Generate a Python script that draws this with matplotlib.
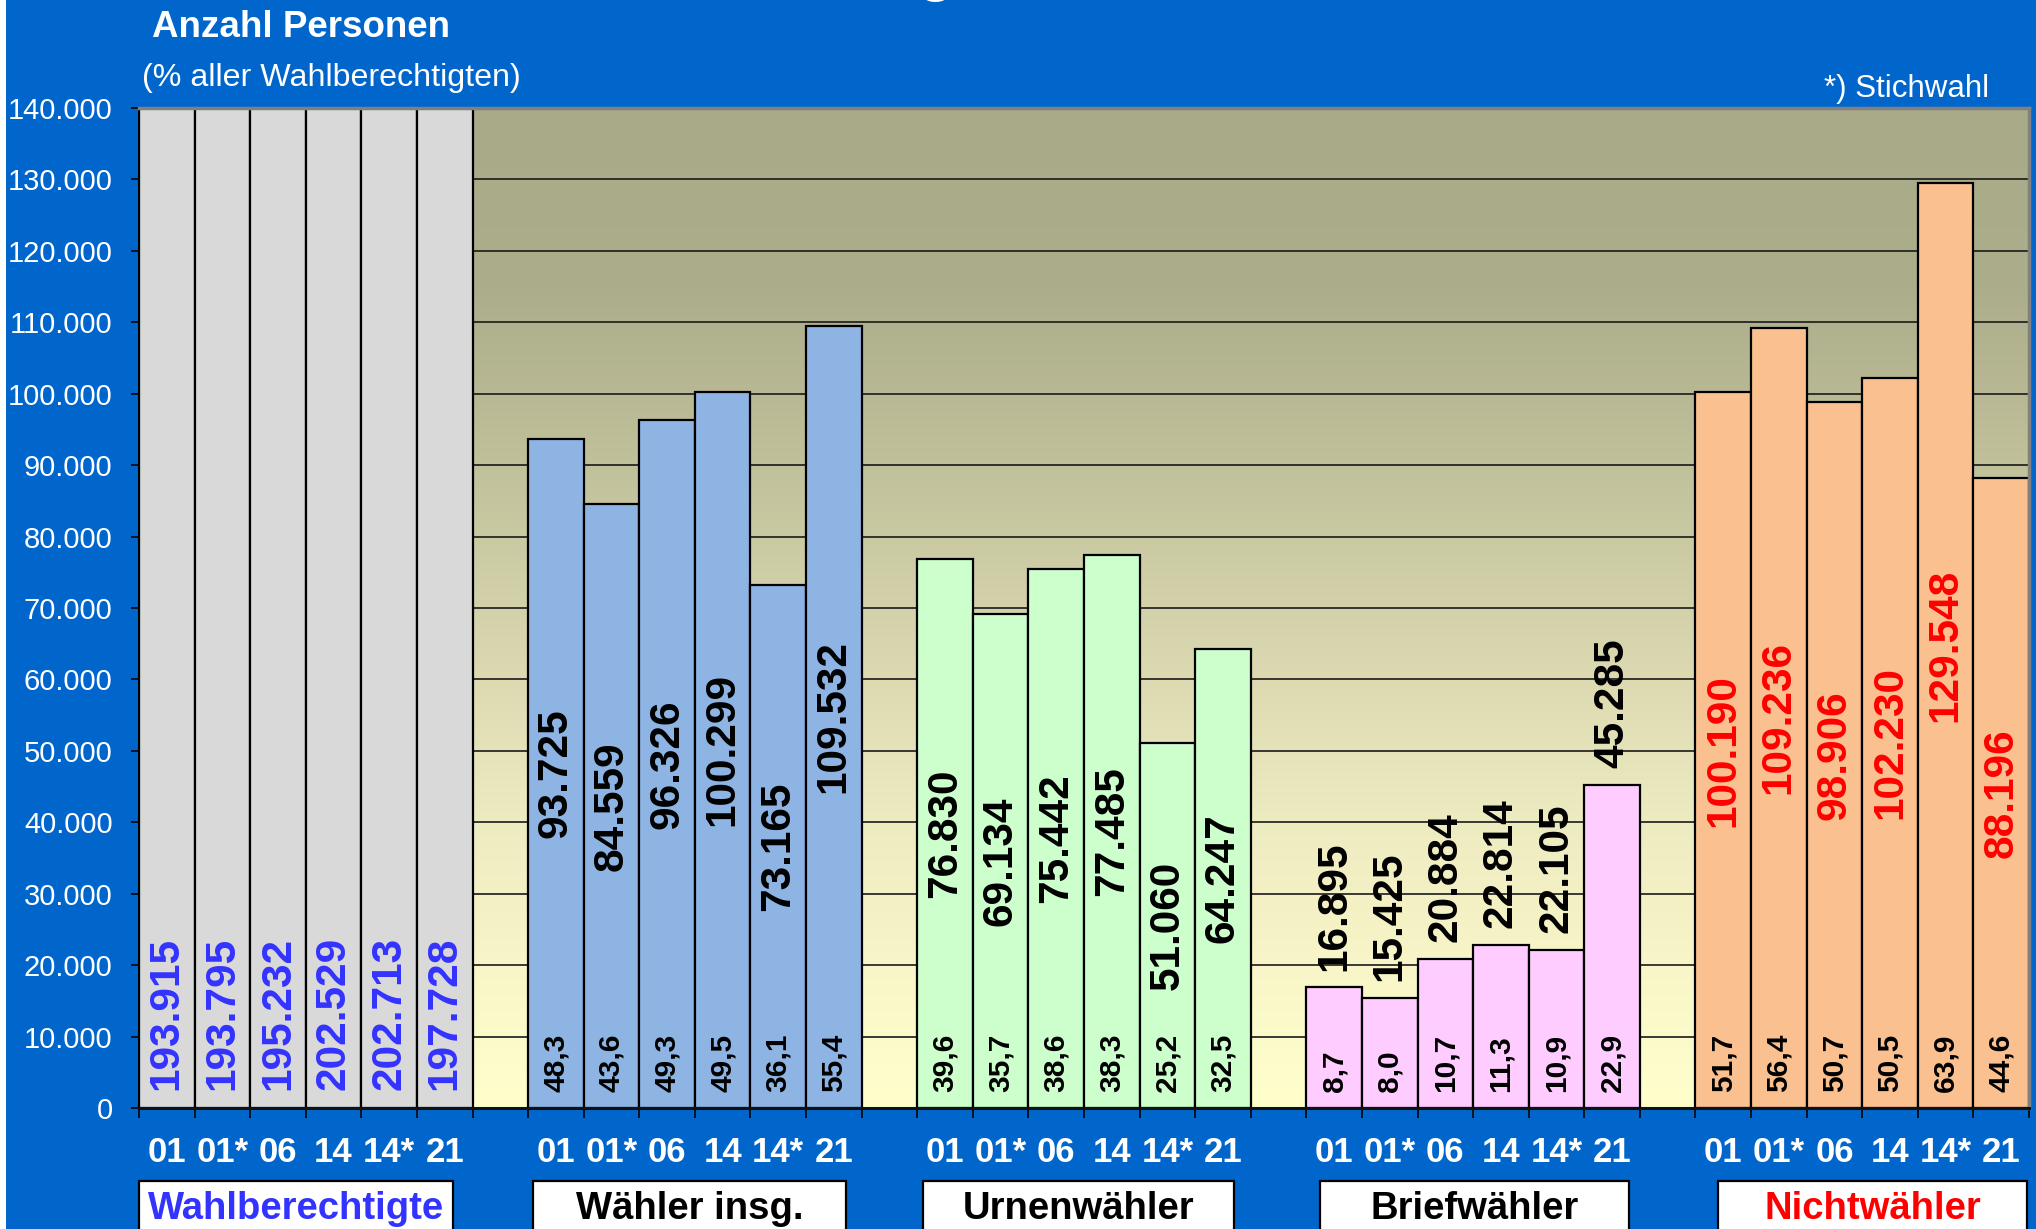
import numpy as np
import matplotlib
matplotlib.use("Agg")
import matplotlib.pyplot as plt
from matplotlib.patches import Rectangle
from matplotlib.ticker import FuncFormatter

plt.rcParams['font.family'] = ['Liberation Sans', 'DejaVu Sans']

# ---------------- data ----------------
years = ["01", "01*", "06", "14", "14*", "21"]
groups = ["Wahlberechtigte", "Wähler insg.", "Urnenwähler", "Briefwähler", "Nichtwähler"]

wahlberechtigte = [193915, 193795, 195232, 202529, 202713, 197728]
waehler_insg = [93725, 84559, 96326, 100299, 73165, 109532]
urnenwaehler = [76830, 69134, 75442, 77485, 51060, 64247]
briefwaehler = [16895, 15425, 20884, 22814, 22105, 45285]
nichtwaehler = [100190, 109236, 98906, 102230, 129548, 88196]

pct_waehler_insg = [48.3, 43.6, 49.3, 49.5, 36.1, 55.4]
pct_urnenwaehler = [39.6, 35.7, 38.6, 38.3, 25.2, 32.5]
pct_briefwaehler = [8.7, 8.0, 10.7, 11.3, 10.9, 22.9]
pct_nichtwaehler = [51.7, 56.4, 50.7, 50.5, 63.9, 44.6]

series = [wahlberechtigte, waehler_insg, urnenwaehler, briefwaehler, nichtwaehler]
pcts = [None, pct_waehler_insg, pct_urnenwaehler, pct_briefwaehler, pct_nichtwaehler]

# ---------------- style ----------------
bar_colors = ["#D9D9D9", "#8EB4E3", "#CCFFCC", "#FFCCFF", "#FAC090"]
label_colors = ["#3333FF", "black", "black", "black", "#FF0000"]
group_text_colors = ["#3333FF", "black", "black", "black", "#FF0000"]
BG = "#0066CC"

W, H = 2036, 1229
fig = plt.figure(figsize=(W / 100, H / 100), dpi=100, facecolor=BG)


def fx(px):
    return px / W


def fy(py):
    return 1 - py / H


# white strip on the left edge
fig.patches.append(Rectangle((0, 0), fx(6), 1, transform=fig.transFigure,
                             facecolor="white", edgecolor="none", zorder=0))

ax = fig.add_axes([fx(139), fy(1108), fx(2029) - fx(139), fy(108) - fy(1108)])

n_slots = len(groups) * 7 - 1
YMAX = 140000

# gradient background of plot area
stop_v = [0, 20000, 40000, 60000, 80000, 100000, 115000, 140000]
stop_c = np.array([(255, 255, 204), (248, 246, 200), (237, 235, 192), (221, 218, 178),
                   (201, 201, 162), (184, 184, 148), (172, 173, 139), (169, 170, 136)]) / 255.0
gv = np.linspace(0, YMAX, 500)
grad = np.stack([np.interp(gv, stop_v, stop_c[:, k]) for k in range(3)], axis=-1)[:, None, :]
ax.imshow(grad, extent=(-0.5, n_slots - 0.5, 0, YMAX), aspect='auto',
          origin='lower', zorder=0, interpolation='bilinear')

# bars
for g, vals in enumerate(series):
    xs = [g * 7 + i for i in range(len(vals))]
    ax.bar(xs, vals, width=1.0, color=bar_colors[g], edgecolor='black',
           linewidth=1.6, zorder=2)


def de_int(v):
    return f"{int(v):,}".replace(",", ".")


def de_pct(p):
    return f"{p:.1f}".replace(".", ",")


# value labels
for g, vals in enumerate(series):
    for i, v in enumerate(vals):
        x = g * 7 + i
        kw = dict(rotation=90, ha='center', fontweight='bold', fontsize=30.5,
                  color=label_colors[g], textcoords='offset points',
                  annotation_clip=False, zorder=5)
        if g == 0:
            ax.annotate(de_int(v), xy=(x, 0), xytext=(0, 13), va='bottom', **kw)
        elif g == 3:
            ax.annotate(de_int(v), xy=(x, v), xytext=(0, 12), va='bottom', **kw)
        else:
            ax.annotate(de_int(v), xy=(x, v / 2), xytext=(0, 0), va='center', **kw)
        if pcts[g] is not None:
            ax.annotate(de_pct(pcts[g][i]), xy=(x, 0), xytext=(0, 11.5),
                        textcoords='offset points', rotation=90, ha='center',
                        va='bottom', fontweight='bold', fontsize=21.5,
                        color='black', annotation_clip=False, zorder=5)

ax.set_xlim(-0.5, n_slots - 0.5)
ax.set_ylim(0, YMAX)

# y axis
ax.set_yticks(range(0, YMAX + 1, 10000))
ax.yaxis.set_major_formatter(FuncFormatter(lambda v, p: de_int(v)))
ax.tick_params(axis='y', labelcolor='white', color='black', length=6, width=1.2,
               labelsize=21, pad=13, direction='out')
ax.yaxis.grid(True, color='#1a1a1a', linewidth=1.2)
ax.set_axisbelow(True)

# x axis
major_x = [g * 7 + i for g in range(len(groups)) for i in range(len(years))]
major_lbl = [y for g in range(len(groups)) for y in years]
ax.set_xticks(major_x)
ax.set_xticklabels(major_lbl, fontweight='bold', fontsize=25, color='white')
ax.set_xticks(np.arange(-0.5, n_slots, 1.0), minor=True)
ax.tick_params(axis='x', which='major', length=0, pad=20)
ax.tick_params(axis='x', which='minor', length=7, width=1.2, color='black',
               direction='out')

ax.spines['left'].set_color('black')
ax.spines['left'].set_linewidth(1.5)
ax.spines['bottom'].set_color('#111111')
ax.spines['bottom'].set_linewidth(2.2)
for s in ['top', 'right']:
    ax.spines[s].set_color('#808080')
    ax.spines[s].set_linewidth(2.5)

# group label boxes
box_px = [(139, 453), (533, 846), (923, 1234), (1320, 1629), (1718, 2027)]
for (l, r), name, col in zip(box_px, groups, group_text_colors):
    fig.patches.append(Rectangle((fx(l), fy(1245)), fx(r) - fx(l), fy(1181) - fy(1245),
                                 transform=fig.transFigure, facecolor='white',
                                 edgecolor='black', linewidth=1.6, zorder=3))
    fig.text(fx((l + r) / 2), fy(1219), name, ha='center', va='baseline',
             fontsize=27.5, fontweight='bold', color=col, zorder=4)

# texts
fig.text(fx(152), fy(37), "Anzahl Personen", ha='left', va='baseline',
         fontsize=26.5, fontweight='bold', color='white')
fig.text(fx(142), fy(86), "(% aller Wahlberechtigten)", ha='left', va='baseline',
         fontsize=23.2, color='white')
fig.text(fx(1989), fy(97), "*) Stichwahl", ha='right', va='baseline',
         fontsize=22.5, color='white')
# title, almost entirely above the top edge of the picture (as in the original)
fig.text(fx(610), fy(-10), "Entwicklung der Wählerzahlen", ha='left', va='baseline',
         fontsize=42, fontweight='bold', color='white')

fig.savefig("out.png", dpi=100, facecolor=BG)
